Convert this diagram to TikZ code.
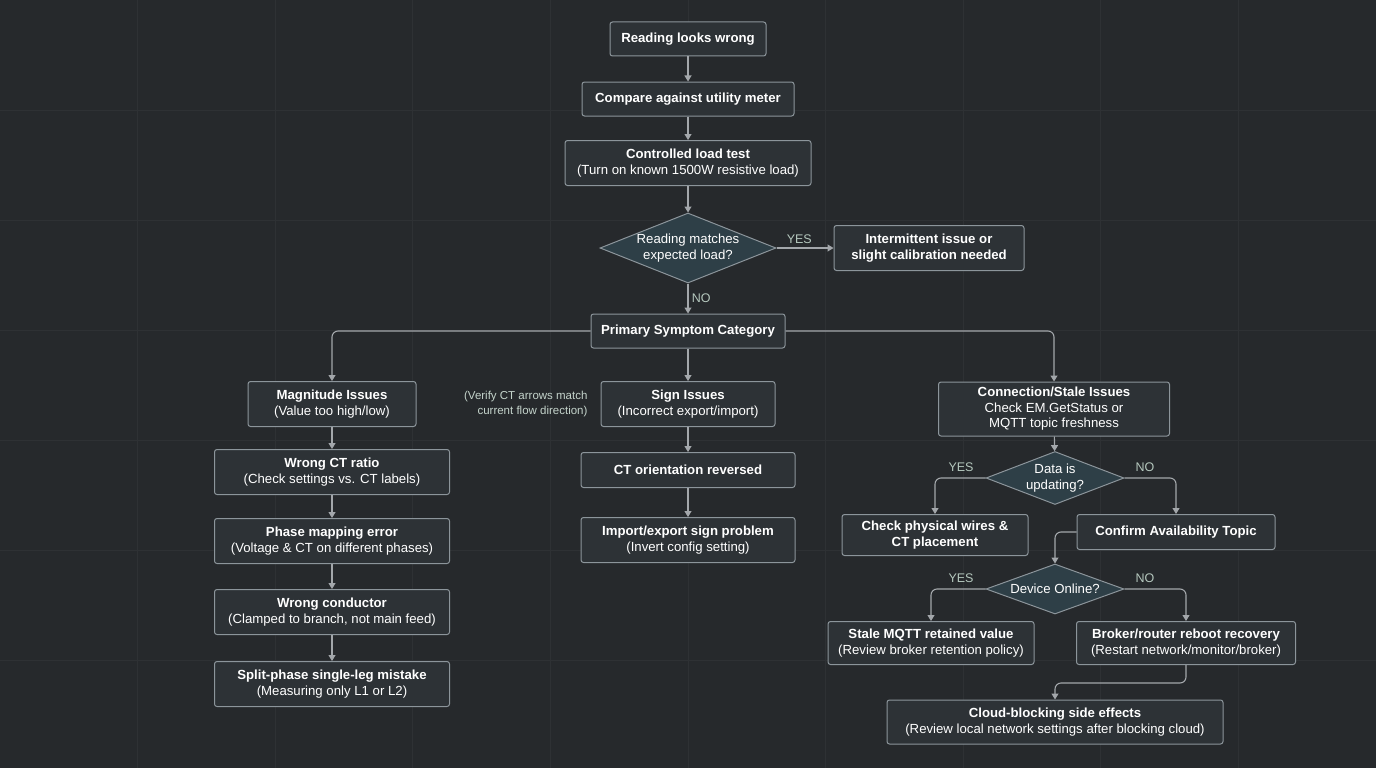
\documentclass[tikz,border=0pt]{standalone}
\usepackage{fontspec}
\setmainfont{Liberation Sans}
\usetikzlibrary{shapes.geometric,arrows.meta}
\definecolor{bg}{HTML}{26292C}
\definecolor{boxf}{HTML}{2D3236}
\definecolor{boxd}{HTML}{8C959B}
\definecolor{dia}{HTML}{2E3F47}
\definecolor{lab}{HTML}{B5C8BE}
\definecolor{ln}{HTML}{A3A7AB}
\definecolor{grid}{HTML}{2E3134}
\begin{document}
\begin{tikzpicture}[x=1pt,y=-1pt,
  box/.style={draw=boxd,line width=1pt,fill=boxf,rounded corners=2.5pt,text=white,align=center,font=\fontsize{13.2}{15.5}\selectfont,inner sep=0pt},
  dm/.style={draw=boxd,line width=1pt,fill=dia,diamond,text=white,align=center,font=\fontsize{13.2}{15.5}\selectfont,inner sep=0pt},
  ar/.style={draw=ln,line width=1.1pt,-{Triangle[length=6pt,width=7pt]},rounded corners=6pt},
  lb/.style={text=lab,font=\fontsize{12.5}{14}\selectfont}]
\fill[bg] (0,0) rectangle (1376,768);
\useasboundingbox (0,0) rectangle (1376,768);
\foreach \x in {137,275,412,550,688,825,963,1100,1238} \draw[grid,line width=0.6pt] (\x,0) -- (\x,768);
\foreach \y in {110,220,330,440,550,660} \draw[grid,line width=0.6pt] (0,\y) -- (1376,\y);
\newcommand{\bx}[6]{\node[box,minimum width=#4,minimum height=#5] (#1) at (#2,#3) {#6};}
\bx{n1}{688}{39}{156}{34}{\textbf{Reading looks wrong}}
\bx{n2}{688}{99}{212}{34}{\textbf{Compare against utility meter}}
\bx{n3}{688}{163}{246}{45}{\textbf{Controlled load test}\\(Turn on known 1500W resistive load)}
\node[dm,minimum width=176,minimum height=70,aspect=2.5] (d1) at (688,248) {Reading matches\\expected load?};
\bx{yes1}{929}{248}{190}{45}{\textbf{Intermittent issue or}\\\textbf{slight calibration needed}}
\bx{n4}{688}{331}{194}{34}{\textbf{Primary Symptom Category}}
\bx{m1}{332}{404}{168}{45}{\textbf{Magnitude Issues}\\(Value too high/low)}
\bx{m2}{332}{472}{235}{45}{\textbf{Wrong CT ratio}\\(Check settings vs. CT labels)}
\bx{m3}{332}{541}{235}{45}{\textbf{Phase mapping error}\\(Voltage \& CT on different phases)}
\bx{m4}{332}{612}{235}{45}{\textbf{Wrong conductor}\\(Clamped to branch, not main feed)}
\bx{m5}{332}{684}{235}{45}{\textbf{Split-phase single-leg mistake}\\(Measuring only L1 or L2)}
\bx{s1}{688}{404}{174}{45}{\textbf{Sign Issues}\\(Incorrect export/import)}
\node[text=lab!80!white,align=right,anchor=east,font=\fontsize{11.5}{14.5}\selectfont] (note) at (591,404) {(Verify CT arrows match\\current flow direction)};
\bx{s2}{688}{470}{214}{35}{\textbf{CT orientation reversed}}
\bx{s3}{688}{540}{214}{45}{\textbf{Import/export sign problem}\\(Invert config setting)}
\bx{c1}{1054}{409}{231}{54}{\textbf{Connection/Stale Issues}\\Check EM.GetStatus or\\MQTT topic freshness}
\node[dm,minimum width=138,minimum height=53,aspect=2.6] (d2) at (1055,478) {Data is\\updating?};
\bx{c2}{935}{535}{186}{41}{\textbf{Check physical wires \&}\\\textbf{CT placement}}
\bx{c3}{1176}{532}{198}{35}{\textbf{Confirm Availability Topic}}
\node[dm,minimum width=138,minimum height=50,aspect=2.76] (d3) at (1055,589) {Device Online?};
\bx{c4}{931}{643}{206}{43}{\textbf{Stale MQTT retained value}\\(Review broker retention policy)}
\bx{c5}{1186}{643}{219}{43}{\textbf{Broker/router reboot recovery}\\(Restart network/monitor/broker)}
\bx{c6}{1055}{722}{336}{44}{\textbf{Cloud-blocking side effects}\\(Review local network settings after blocking cloud)}
\draw[ar] (n1) -- (n2);
\draw[ar] (n2) -- (n3);
\draw[ar] (n3) -- (d1);
\draw[ar] (d1.east) -- (yes1.west) node[lb,pos=0.4,above] {YES};
\draw[ar] (d1.south) -- (n4.north) node[lb,midway,right] {NO};
\draw[ar] (n4.west) -| (m1.north);
\draw[ar] (n4.east) -| (c1.north);
\draw[ar] (n4) -- (s1);
\draw[ar] (m1) -- (m2); \draw[ar] (m2) -- (m3); \draw[ar] (m3) -- (m4); \draw[ar] (m4) -- (m5);
\draw[ar] (s1) -- (s2); \draw[ar] (s2) -- (s3);
\draw[ar] (c1) -- (d2);
\draw[ar] (d2.west) -| (c2.north);
\draw[ar] (d2.east) -| (c3.north);
\node[lb] (y2) at (961,467) {YES};
\node[lb] (n2l) at (1145,467) {NO};
\draw[ar] (c3.west) -| (d3.north);
\draw[ar] (d3.west) -| (c4.north);
\draw[ar] (d3.east) -| (c5.north);
\node[lb] (y3) at (961,578) {YES};
\node[lb] (n3l) at (1145,578) {NO};
\coordinate (k1) at (1186,683);
\draw[ar] (c5.south) -- (k1) -| (c6.north);
\end{tikzpicture}
\end{document}
